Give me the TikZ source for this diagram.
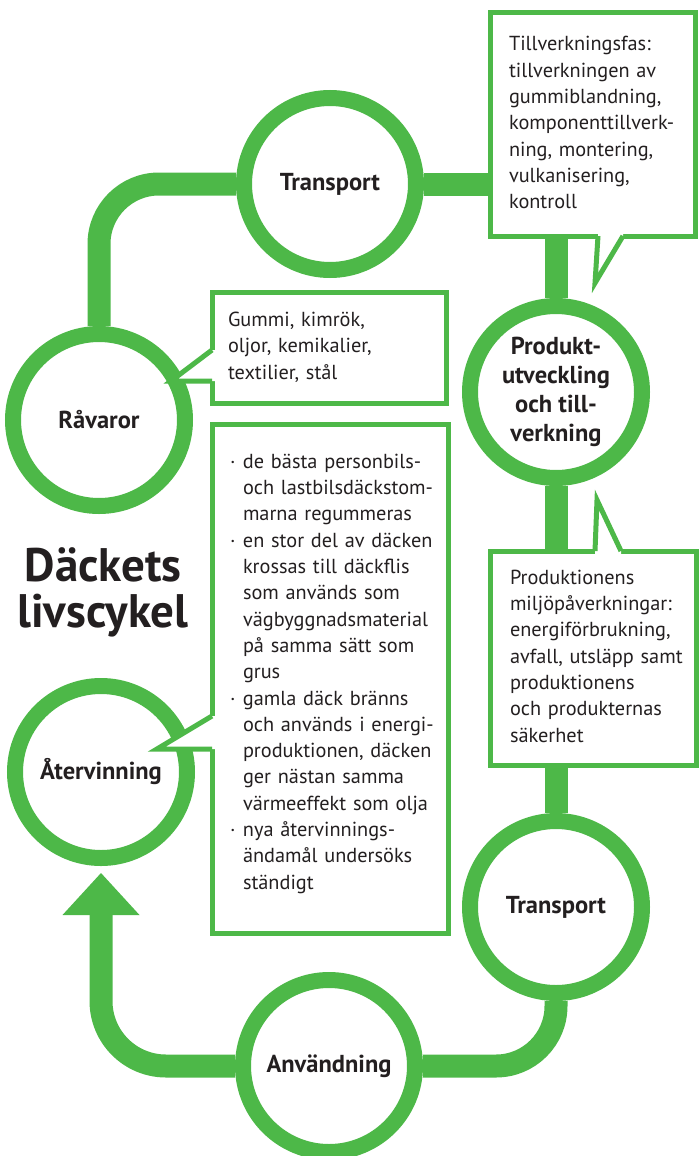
\documentclass[tikz,border=0pt]{standalone}
\usepackage{fontspec}
\setmainfont{PT Sans}
\usetikzlibrary{arrows.meta}
\definecolor{lgreen}{HTML}{4DB848}
\definecolor{ink}{HTML}{231F20}
\newcommand{\dotitem}{\makebox[13pt][l]{\textperiodcentered}}
\newcommand{\contline}{\hspace*{13pt}}
\newcommand{\boxlines}[1]{\begin{tabular}{@{}l@{}}#1\end{tabular}}

\begin{document}
\begin{tikzpicture}[x=1pt,y=-1pt,
		stage/.style={circle,draw=lgreen,line width=16pt,fill=white,minimum size=172pt,inner sep=0pt,
			align=center,text=ink,font=\bfseries\fontsize{24.5}{29}\selectfont},
		band/.style={draw=lgreen,line width=23pt},
		info/.style={rectangle,draw=lgreen,line width=5pt,fill=white,anchor=north west,inner ysep=0pt,
			align=left,text=ink,font=\fontsize{20.3}{26.3}\selectfont},
		tail/.style={draw=lgreen,line width=5pt,line join=miter,line cap=square}
		]
		\useasboundingbox (0,0) rectangle (699,1156);
		% stations
		\node[stage] (tt) at (330,184) {Transport};
		\node[stage] (rav) at (99,420) {Råvaror};
		\node[stage] (prod) at (556,392) {Produkt-\\utveckling\\och till-\\verkning};
		\node[stage] (tb) at (556,907) {Transport};
		\node[stage] (atv) at (101,772) {Återvinning};
		\node[stage] (anv) at (329,1066) {Användning};
		\node[text=ink,align=center,font=\bfseries\fontsize{47}{46}\selectfont] (title) at (103,592) {Däckets\\livscykel};
		% text boxes
		\node[info,minimum width=205pt,minimum height=223pt,inner xsep=19pt,text width=167pt] (b1) at (487.5,10.5)
			{\boxlines{Tillverkningsfas:\\tillverkningen av\\gummiblandning,\\komponenttillverk-\\ning, montering,\\vulkanisering,\\kontroll}};
		\node[info,minimum width=234pt,minimum height=111pt,inner xsep=16pt,text width=202pt] (b2) at (209.5,289.5)
			{\boxlines{Gummi, kimrök,\\oljor, kemikalier,\\textilier, stål}};
		\node[info,minimum width=236pt,minimum height=509pt,inner xsep=18pt,text width=200pt] (b3) at (209.5,421.5)
			{\boxlines{\dotitem de bästa personbils-\\\contline och lastbilsdäckstom-\\\contline marna regummeras\\
			\dotitem en stor del av däcken\\\contline krossas till däckflis\\\contline som används som\\
			\contline vägbyggnadsmaterial\\\contline på samma sätt som\\\contline grus\\
			\dotitem gamla däck bränns\\\contline och används i energi-\\\contline produktionen, däcken\\
			\contline ger nästan samma\\\contline värmeeffekt som olja\\
			\dotitem nya återvinnings-\\\contline ändamål undersöks\\\contline ständigt\\[10pt]}};
		\node[info,minimum width=206pt,minimum height=214pt,inner xsep=20pt,text width=166pt] (b4) at (487.5,548.5)
			{\boxlines{Produktionens\\miljöpåverkningar:\\energiförbrukning,\\avfall, utsläpp samt\\produktionens\\och produkternas\\säkerhet}};
		% the cycle
		\draw[band,rounded corners=60pt] (tt.west) -| (rav.north);
		\draw[band] (tt.east) -- (tt.east -| b1.west);
		\draw[band] (prod.north) -- (prod.north |- b1.south);
		\draw[band] (prod.south) -- (prod.south |- b4.north);
		\draw[band] (tb.north) -- (tb.north |- b4.south);
		\draw[band,rounded corners=60pt] (tb.south) |- (anv.east);
		\draw[band,rounded corners=65pt,-{Triangle[width=77pt,length=42pt,line width=0pt]}] (anv.west) -| ([yshift=-7pt]atv.south);
		% callout tails
		\fill[white] (598,232) -- (598,236) -- (595,283) -- (623,236) -- (623,232) -- cycle;
		\draw[tail] (598,236) -- (595,283) -- (623,236);
		\fill[white] (216,350) -- (212,350) -- (171,381) -- (212,381) -- (216,381) -- cycle;
		\draw[tail] (212,350) -- (171,381) -- (212,381);
		\fill[white] (216,716) -- (212,716) -- (157,749) -- (212,749) -- (216,749) -- cycle;
		\draw[tail] (212,716) -- (157,749) -- (212,749);
		\fill[white] (595,555) -- (595,551) -- (597,500) -- (621,551) -- (621,555) -- cycle;
		\draw[tail] (595,551) -- (597,500) -- (621,551);
\end{tikzpicture}
\end{document}
